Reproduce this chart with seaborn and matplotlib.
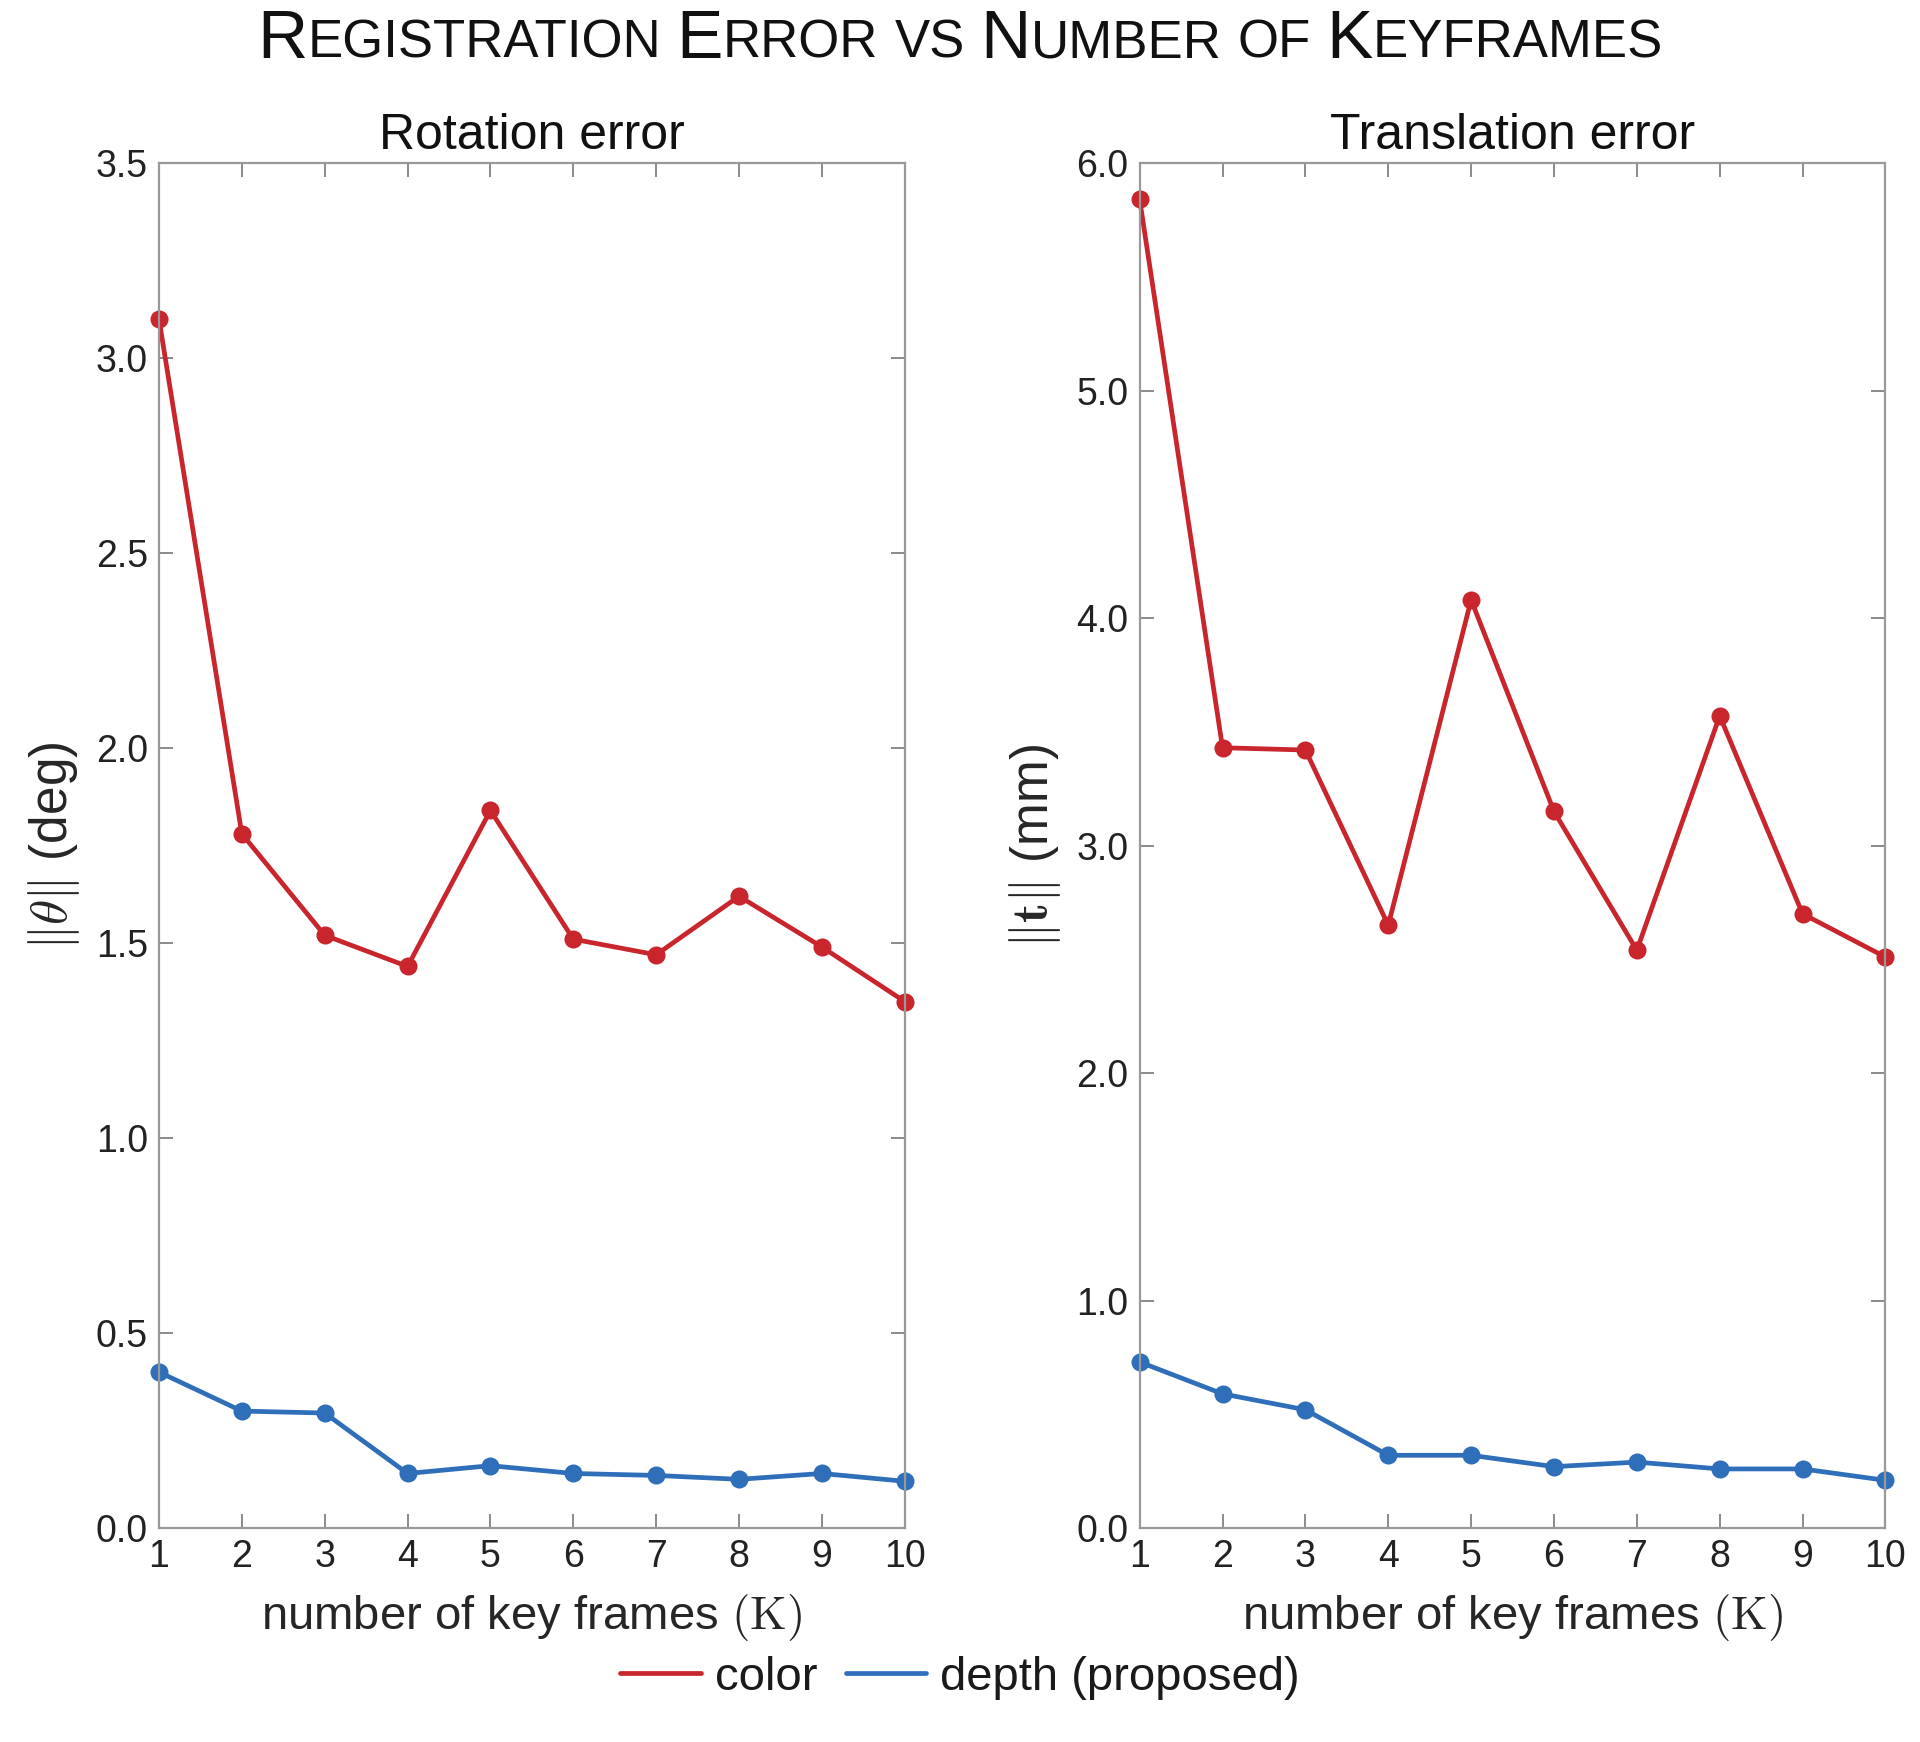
import numpy as np
import pandas as pd
import matplotlib
matplotlib.use('Agg')
import matplotlib.pyplot as plt
from matplotlib.lines import Line2D
import seaborn as sns

# data
K = list(range(1, 11))
rot_color = [3.10, 1.78, 1.52, 1.44, 1.84, 1.51, 1.47, 1.62, 1.49, 1.35]
rot_depth = [0.40, 0.30, 0.295, 0.14, 0.16, 0.14, 0.135, 0.125, 0.14, 0.12]
trans_color = [5.84, 3.43, 3.42, 2.65, 4.08, 3.15, 2.54, 3.57, 2.70, 2.51]
trans_depth = [0.73, 0.59, 0.52, 0.32, 0.32, 0.27, 0.29, 0.26, 0.26, 0.21]
methods = ['color', 'depth (proposed)']
colors = ['#c9252c', '#2f6fba']
rot_ticks = [0.0, 0.5, 1.0, 1.5, 2.0, 2.5, 3.0, 3.5]
trans_ticks = [0.0, 1.0, 2.0, 3.0, 4.0, 5.0, 6.0]

sns.set_style('ticks')
FAMILY = ['Liberation Sans', 'DejaVu Sans']
plt.rcParams['font.family'] = FAMILY
plt.rcParams['mathtext.fontset'] = 'cm'
plt.rcParams['text.color'] = '#1a1a1a'


def long_df(color_vals, depth_vals):
    return pd.DataFrame({
        'K': K + K,
        'error': color_vals + depth_vals,
        'method': [methods[0]] * len(K) + [methods[1]] * len(K),
    })


def small_caps_title(fig, text, y, big=50, small=38):
    renderer = fig.canvas.get_renderer()
    pieces = []
    for i, word in enumerate(text.split(' ')):
        gap = 0.0 if i == 0 else small * 100 / 72 * 0.30
        if word[0].isupper():
            pieces.append((word[0], big, gap))
            if word[1:]:
                pieces.append((word[1:].upper(), small, 0.0))
        else:
            pieces.append((word.upper(), small, gap))
    W = fig.bbox.width
    texts, x = [], 0.0
    for s, size, gap in pieces:
        x += gap
        t = fig.text(x / W, y, s, fontsize=size, ha='left', va='baseline',
                     family=FAMILY, color='#111111')
        texts.append((t, x))
        x += t.get_window_extent(renderer).width
    offset = (W - x) / 2
    for t, x0 in texts:
        t.set_x((x0 + offset) / W)


fig, axes = plt.subplots(1, 2, figsize=(19.2, 17.42), dpi=100)
fig.subplots_adjust(left=0.0828, right=0.982, bottom=0.1228, top=0.9064, wspace=0.315)

panels = [
    (axes[0], long_df(rot_color, rot_depth), 'Rotation error',
     r'$\|\theta\|$ (deg)', rot_ticks),
    (axes[1], long_df(trans_color, trans_depth), 'Translation error',
     r'$\|\mathbf{t}\|$ (mm)', trans_ticks),
]

for ax, df, title, ylabel, yticks in panels:
    sns.lineplot(data=df, x='K', y='error', hue='method', palette=colors,
                 marker='o', markersize=13, markeredgewidth=0, linewidth=3.4,
                 legend=False, clip_on=False, ax=ax)
    ax.set_xlim(1, 10)
    ax.set_ylim(yticks[0], yticks[-1])
    ax.set_xticks(K)
    ax.set_yticks(yticks)
    ax.set_yticklabels([f'{v:.1f}' for v in yticks])
    ax.tick_params(direction='in', length=10, width=1.2, top=True, right=True,
                   color='#777777', labelcolor='#222222', labelsize=27, pad=8)
    for spine in ax.spines.values():
        spine.set_color('#999999')
        spine.set_linewidth(1.6)
    ax.set_title(title, fontsize=36, pad=10, color='#111111')
    ax.set_xlabel(r'number of key frames $(\mathrm{K})$', fontsize=34, labelpad=12)
    ax.set_ylabel(ylabel, fontsize=37, labelpad=10)

handles = [Line2D([], [], color=c, linewidth=3.4) for c in colors]
fig.legend(handles, methods, loc='lower center', bbox_to_anchor=(0.5, 0.0),
           ncol=2, frameon=False, handlelength=1.7, handletextpad=0.3,
           columnspacing=0.6, fontsize=34)

small_caps_title(fig, 'Registration Error vs Number of Keyframes', 1 - 58 / 1742)

fig.savefig('out.png', dpi=100)
